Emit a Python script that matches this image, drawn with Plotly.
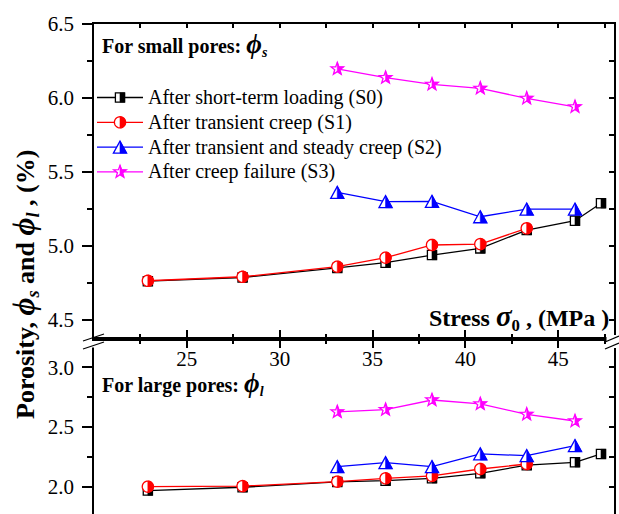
import math
import plotly.graph_objects as go

# ---- data: porosity (%) versus applied stress (MPa) ----
stress = [22.9, 28.0, 33.1, 35.7, 38.2, 40.8, 43.3, 45.9, 47.3]
stress_s0 = stress
stress_s1 = stress[:7]
stress_s2 = stress[2:8]
stress_s3 = stress[2:8]

# small pores, phi_s
small_s0 = [4.76, 4.785, 4.85, 4.885, 4.937, 4.982, 5.106, 5.169, 5.287]
small_s1 = [4.763, 4.79, 4.858, 4.919, 5.005, 5.011, 5.118]
small_s2 = [5.361, 5.298, 5.300, 5.196, 5.248, 5.248]
small_s3 = [6.196, 6.137, 6.092, 6.065, 5.997, 5.940]

# large pores, phi_l
large_s0 = [1.967, 1.995, 2.040, 2.050, 2.070, 2.112, 2.180, 2.204, 2.274]
large_s1 = [2.000, 2.005, 2.042, 2.070, 2.090, 2.148, 2.190]
large_s2 = [2.168, 2.201, 2.168, 2.274, 2.260, 2.344]
large_s3 = [2.626, 2.645, 2.726, 2.693, 2.606, 2.550]

series_names = [
    "After short-term loading (S0)",
    "After transient creep (S1)",
    "After transient and steady creep (S2)",
    "After creep failure (S3)",
]
series_colors = ["#000000", "#ff0000", "#0000ff", "#ff00ff"]
series_symbols = ["square", "circle", "triangle", "star"]

x_ticks = [25, 30, 35, 40, 45]
x_minor = [22.5, 27.5, 32.5, 37.5, 42.5, 47.5]
top_major = [4.5, 5.0, 5.5, 6.0, 6.5]
top_minor = [4.75, 5.25, 5.75, 6.25]
bot_major = [2.0, 2.5, 3.0]
bot_minor = [2.25, 2.75]

# ---- page geometry ----
W, H = 619, 514
ML, MR, MT, MB = 94, 5, 24, 0
PW, PH = W - ML - MR, H - MT - MB
SPLIT_PX = 339
SPLIT = (H - MB - SPLIT_PX) / PH


def paper_x(px):
    return (px - ML) / PW


def paper_y(py):
    return (H - MB - py) / PH


FONT = "Liberation Serif"


# ---- half-filled marker outlines (pixel offsets, y up) ----
def poly(pts):
    return "M" + " L".join(f"{x:.2f},{y:.2f}" for x, y in pts) + " Z"


def marker_paths(kind):
    if kind == "square":
        a = 4.6
        full = [(-a, -a), (a, -a), (a, a), (-a, a)]
        half = [(0, -a), (a, -a), (a, a), (0, a)]
    elif kind == "circle":
        r = 5.6
        n = 36
        full = [(r * math.cos(2 * math.pi * i / n), r * math.sin(2 * math.pi * i / n)) for i in range(n)]
        half = [(r * math.cos(-math.pi / 2 + math.pi * i / (n // 2)),
                 r * math.sin(-math.pi / 2 + math.pi * i / (n // 2))) for i in range(n // 2 + 1)]
    elif kind == "triangle":
        w, h = 6.6, 6.0
        full = [(-w, -h), (w, -h), (0, h)]
        half = [(0, -h), (w, -h), (0, h)]
    else:  # five-point star
        R, r = 6.6, 2.7
        full = []
        for k in range(10):
            ang = math.radians(90 - 36 * k)
            rad = R if k % 2 == 0 else r
            full.append((rad * math.cos(ang), rad * math.sin(ang)))
        half = full[:6]
    return poly(full), poly(half)


def marker_shapes(xs, ys, kind, color, xref, yref):
    full, half = marker_paths(kind)
    out = []
    for xv, yv in zip(xs, ys):
        common = dict(type="path", xref=xref, yref=yref, xsizemode="pixel", ysizemode="pixel",
                      xanchor=xv, yanchor=yv, layer="above")
        out.append(dict(path=full, fillcolor="white", line=dict(color=color, width=1.3), **common))
        out.append(dict(path=half, fillcolor=color, line=dict(color=color, width=0.6), **common))
    return out


fig = go.Figure()
shapes = []

panels = [
    ("x", "y", [stress_s0, stress_s1, stress_s2, stress_s3], [small_s0, small_s1, small_s2, small_s3]),
    ("x2", "y2", [stress_s0, stress_s1, stress_s2, stress_s3], [large_s0, large_s1, large_s2, large_s3]),
]
for xref, yref, xs_list, ys_list in panels:
    for xs, ys, color, kind in zip(xs_list, ys_list, series_colors, series_symbols):
        fig.add_trace(go.Scatter(x=xs, y=ys, mode="lines", xaxis=xref, yaxis=yref,
                                 line=dict(color=color, width=1.3), showlegend=False,
                                 hoverinfo="skip"))
        shapes += marker_shapes(xs, ys, kind, color, xref, yref)

# empty traces so the mirrored frame axes are drawn
for xr, yr in [("x3", "y"), ("x", "y3"), ("x2", "y4")]:
    fig.add_trace(go.Scatter(x=[None], y=[None], xaxis=xr, yaxis=yr, showlegend=False))

# ---- hand-built legend ----
legend_top_px, legend_step_px = 97.5, 24.8
annotations = []
for i, (name, color, kind) in enumerate(zip(series_names, series_colors, series_symbols)):
    py = legend_top_px + i * legend_step_px
    yp = paper_y(py)
    shapes.append(dict(type="line", xref="paper", yref="paper", x0=paper_x(97), x1=paper_x(143),
                       y0=yp, y1=yp, line=dict(color=color, width=1.3), layer="above"))
    full, half = marker_paths(kind)
    common = dict(type="path", xref="paper", yref="paper", xsizemode="pixel", ysizemode="pixel",
                  xanchor=paper_x(120), yanchor=yp, layer="above")
    shapes.append(dict(path=full, fillcolor="white", line=dict(color=color, width=1.3), **common))
    shapes.append(dict(path=half, fillcolor=color, line=dict(color=color, width=0.6), **common))
    annotations.append(dict(xref="paper", yref="paper", x=paper_x(146), y=yp, xanchor="left",
                            yanchor="middle", showarrow=False, text=name,
                            font=dict(family=FONT, size=20, color="black")))

# ---- axis break marks ----
for ax_x in (0, 1):
    base = dict(xref="paper", yref="paper", xsizemode="pixel", ysizemode="pixel",
                xanchor=ax_x, yanchor=SPLIT, layer="above")
    if ax_x == 0:
        shapes.append(dict(type="rect", x0=-3, x1=3, y0=-8.5, y1=-2.0, fillcolor="white",
                           line=dict(width=0), **base))
        segs = [(-11, -2, 10, 5), (-11, -10, 10, -3)]
    else:
        shapes.append(dict(type="rect", x0=-7.5, x1=3, y0=-9, y1=4, fillcolor="white",
                           line=dict(width=0), **base))
        segs = [(-9, -3, 5, 3), (-9, -10, 5, -4)]
    for x0, y0, x1, y1 in segs:
        shapes.append(dict(type="line", x0=x0, y0=y0, x1=x1, y1=y1,
                           line=dict(color="black", width=1.3), **base))

# ---- text labels ----
PHI = "\u03d5"
annotations += [
    dict(xref="paper", yref="paper", x=paper_x(100), y=paper_y(44), xanchor="left", yanchor="middle",
         showarrow=False,
         text=f"<b>For small pores: <span style='font-size:27px'><i>{PHI}</i></span><sub><i>s</i></sub></b>",
         font=dict(family=FONT, size=20, color="black")),
    dict(xref="paper", yref="paper", x=paper_x(100), y=paper_y(383), xanchor="left", yanchor="middle",
         showarrow=False,
         text=f"<b>For large pores: <span style='font-size:27px'><i>{PHI}</i></span><sub><i>l</i></sub></b>",
         font=dict(family=FONT, size=20, color="black")),
    dict(xref="paper", yref="paper", x=paper_x(611), y=paper_y(317), xanchor="right", yanchor="middle",
         showarrow=False,
         text="<b>Stress <span style='font-size:29px'><i>\u03c3</i></span><sub>0</sub> , (MPa )</b>",
         font=dict(family=FONT, size=24, color="black")),
    dict(xref="paper", yref="paper", x=paper_x(24), y=paper_y(285), xanchor="center", yanchor="middle",
         showarrow=False, textangle=-90,
         text=(f"<b>Porosity, <span style='font-size:31px'><i>{PHI}</i></span><sub><i>s</i></sub> and "
               f"<span style='font-size:31px'><i>{PHI}</i></span><sub><i>l</i></sub> , (%)</b>"),
         font=dict(family=FONT, size=26, color="black")),
]

tick_font = dict(family=FONT, size=21, color="black")
frame = dict(showline=True, linecolor="black", linewidth=1.5, showgrid=False, zeroline=False,
             tickcolor="black", tickwidth=1.5)

fig.update_layout(
    width=W, height=H,
    margin=dict(l=ML, r=MR, t=MT, b=MB, pad=0),
    paper_bgcolor="white", plot_bgcolor="white",
    showlegend=False,
    xaxis=dict(domain=[0, 1], anchor="y", range=[20, 48], tickmode="array", tickvals=x_ticks,
               ticks="inside", ticklen=9, tickfont=tick_font, ticklabelstandoff=0,
               minor=dict(tickmode="array", tickvals=x_minor, ticks="inside", ticklen=5,
                          tickwidth=1.5, tickcolor="black"), **frame),
    xaxis2=dict(domain=[0, 1], anchor="y2", range=[20, 48], side="top", tickmode="array",
                tickvals=x_ticks, ticks="inside", ticklen=9, showticklabels=False,
                minor=dict(tickmode="array", tickvals=x_minor, ticks="inside", ticklen=5,
                           tickwidth=1.5, tickcolor="black"), **frame),
    xaxis3=dict(overlaying="x", anchor="y", side="top", range=[20, 48], tickmode="array",
                tickvals=sorted(x_ticks + x_minor), ticks="inside", ticklen=4,
                showticklabels=False, **frame),
    yaxis=dict(domain=[SPLIT, 1], anchor="x", range=[4.369, 6.5], tickmode="array",
               tickvals=top_major, ticktext=[f"{v:.1f}" for v in top_major], ticks="outside",
               ticklen=10, tickfont=tick_font, ticklabelstandoff=4,
               minor=dict(tickmode="array", tickvals=top_minor, ticks="outside", ticklen=5,
                          tickwidth=1.5, tickcolor="black"), **frame),
    yaxis3=dict(overlaying="y", anchor="x", side="right", range=[4.369, 6.5], tickmode="array",
                tickvals=sorted(top_major[:-1] + top_minor), ticks="inside", ticklen=5,
                showticklabels=False, **frame),
    yaxis2=dict(domain=[0, SPLIT], anchor="x2", range=[1.771, 3.237], tickmode="array",
                tickvals=bot_major, ticktext=[f"{v:.1f}" for v in bot_major], ticks="outside",
                ticklen=10, tickfont=tick_font, ticklabelstandoff=4,
                minor=dict(tickmode="array", tickvals=bot_minor, ticks="outside", ticklen=5,
                           tickwidth=1.5, tickcolor="black"), **frame),
    yaxis4=dict(overlaying="y2", anchor="x2", side="right", range=[1.771, 3.237], tickmode="array",
                tickvals=sorted(bot_major + bot_minor), ticks="inside", ticklen=5,
                showticklabels=False, **frame),
    shapes=shapes,
    annotations=annotations,
)

fig.write_html("out.html")
